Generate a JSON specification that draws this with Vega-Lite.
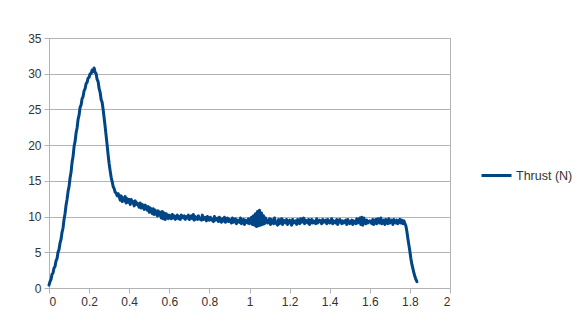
{
  "$schema": "https://vega.github.io/schema/vega-lite/v6.json",
  "width": 401,
  "height": 250,
  "autosize": {"type": "none"},
  "padding": {"left": 49, "top": 38, "right": 126, "bottom": 39},
  "background": "white",
  "config": {
    "font": "Liberation Sans",
    "view": {"stroke": "#b3b3b3", "strokeWidth": 1},
    "axis": {
      "domainColor": "#b3b3b3",
      "tickColor": "#b3b3b3",
      "gridColor": "#b3b3b3",
      "labelColor": "#333333",
      "labelFont": "Liberation Sans",
      "labelFontSize": 12,
      "title": null,
      "tickSize": 5
    }
  },
  "data": {
    "values": [
      {"t":0.00,"F":0.4},{"t":0.005,"F":0.9},{"t":0.01,"F":1.2},{"t":0.015,"F":1.9},{"t":0.02,"F":2.1},{"t":0.025,"F":2.8},{"t":0.03,"F":3.0},{"t":0.035,"F":3.8},{"t":0.04,"F":4.1},
      {"t":0.045,"F":5.0},{"t":0.05,"F":5.4},{"t":0.055,"F":6.3},{"t":0.06,"F":6.8},{"t":0.065,"F":7.8},{"t":0.07,"F":8.4},{"t":0.075,"F":9.6},{"t":0.08,"F":10.4},{"t":0.085,"F":11.6},{"t":0.09,"F":12.4},
      {"t":0.095,"F":13.5},{"t":0.10,"F":14.2},{"t":0.105,"F":15.4},{"t":0.11,"F":16.2},{"t":0.115,"F":17.6},{"t":0.12,"F":18.4},{"t":0.125,"F":19.8},{"t":0.13,"F":20.5},{"t":0.135,"F":21.7},{"t":0.14,"F":22.4},
      {"t":0.145,"F":23.6},{"t":0.15,"F":24.2},{"t":0.155,"F":25.3},{"t":0.16,"F":25.6},{"t":0.165,"F":26.5},{"t":0.17,"F":26.8},{"t":0.175,"F":27.6},{"t":0.18,"F":27.9},{"t":0.185,"F":28.6},{"t":0.19,"F":28.8},
      {"t":0.195,"F":29.4},{"t":0.20,"F":29.5},{"t":0.205,"F":30.0},{"t":0.21,"F":30.0},{"t":0.215,"F":30.5},{"t":0.22,"F":30.3},{"t":0.225,"F":30.8},{"t":0.23,"F":30.2},
      {"t":0.235,"F":30.0},{"t":0.24,"F":29.2},{"t":0.245,"F":28.9},{"t":0.25,"F":27.9},{"t":0.255,"F":27.4},{"t":0.26,"F":26.4},{"t":0.265,"F":26.0},{"t":0.27,"F":25.0},{"t":0.275,"F":23.8},{"t":0.28,"F":22.6},
      {"t":0.285,"F":21.3},{"t":0.29,"F":20.0},{"t":0.295,"F":18.6},{"t":0.30,"F":17.4},{"t":0.305,"F":16.4},{"t":0.31,"F":15.5},{"t":0.315,"F":14.9},{"t":0.32,"F":14.2},{"t":0.325,"F":13.9},{"t":0.33,"F":13.4},
      {"t":0.335,"F":13.3},{"t":0.34,"F":12.9},
      {"t":0.345,"F":13.2},{"t":0.35,"F":12.8},{"t":0.355,"F":12.3},{"t":0.36,"F":12.9},{"t":0.365,"F":12.1},{"t":0.37,"F":12.6},{"t":0.375,"F":12.2},{"t":0.38,"F":12.8},{"t":0.385,"F":11.9},{"t":0.39,"F":12.5},
      {"t":0.395,"F":12.0},{"t":0.40,"F":12.4},{"t":0.405,"F":11.7},{"t":0.41,"F":12.4},{"t":0.415,"F":11.9},{"t":0.42,"F":12.1},{"t":0.425,"F":11.5},{"t":0.43,"F":12.2},{"t":0.435,"F":11.7},{"t":0.44,"F":11.9},
      {"t":0.45,"F":11.3},{"t":0.455,"F":11.9},{"t":0.46,"F":11.2},{"t":0.465,"F":11.7},{"t":0.47,"F":11.4},{"t":0.475,"F":11.0},{"t":0.48,"F":11.6},{"t":0.49,"F":10.9},{"t":0.495,"F":11.4},
      {"t":0.50,"F":10.6},{"t":0.505,"F":11.2},{"t":0.51,"F":10.9},{"t":0.515,"F":10.4},{"t":0.52,"F":11.1},{"t":0.525,"F":10.3},{"t":0.53,"F":10.9},{"t":0.535,"F":10.5},{"t":0.54,"F":10.1},{"t":0.545,"F":10.8},
      {"t":0.55,"F":10.2},{"t":0.555,"F":10.6},{"t":0.56,"F":9.8},{"t":0.565,"F":10.7},{"t":0.57,"F":9.7},{"t":0.575,"F":10.5},{"t":0.58,"F":9.6},{"t":0.585,"F":10.4},{"t":0.59,"F":10.0},{"t":0.595,"F":9.7},
      {"t":0.60,"F":10.2},{"t":0.61,"F":9.7},{"t":0.615,"F":10.3},{"t":0.62,"F":9.8},{"t":0.625,"F":10.1},{"t":0.63,"F":9.6},{"t":0.64,"F":10.2},{"t":0.645,"F":9.7},{"t":0.65,"F":10.0},
      {"t":0.655,"F":9.6},{"t":0.66,"F":10.2},{"t":0.67,"F":9.8},{"t":0.675,"F":10.1},{"t":0.68,"F":9.6},{"t":0.685,"F":10.0},{"t":0.69,"F":9.8},{"t":0.695,"F":10.2},
      {"t":0.70,"F":9.6},{"t":0.71,"F":10.1},{"t":0.715,"F":9.7},{"t":0.72,"F":10.3},{"t":0.725,"F":9.5},{"t":0.73,"F":10.0},{"t":0.74,"F":9.6},{"t":0.745,"F":10.1},
      {"t":0.75,"F":9.7},{"t":0.76,"F":9.5},{"t":0.765,"F":10.2},{"t":0.77,"F":9.6},{"t":0.78,"F":9.9},{"t":0.785,"F":9.4},{"t":0.79,"F":10.0},
      {"t":0.80,"F":9.5},{"t":0.805,"F":9.9},{"t":0.81,"F":9.6},{"t":0.82,"F":9.3},{"t":0.825,"F":10.0},{"t":0.83,"F":9.5},{"t":0.84,"F":9.8},{"t":0.845,"F":9.3},
      {"t":0.85,"F":9.9},{"t":0.86,"F":9.2},{"t":0.865,"F":9.7},{"t":0.87,"F":9.4},{"t":0.875,"F":9.9},{"t":0.88,"F":9.2},{"t":0.89,"F":9.8},{"t":0.895,"F":9.3},
      {"t":0.90,"F":9.6},{"t":0.91,"F":9.1},{"t":0.915,"F":9.8},{"t":0.92,"F":9.2},{"t":0.93,"F":9.7},{"t":0.935,"F":9.0},{"t":0.94,"F":9.5},
      {"t":0.95,"F":9.2},{"t":0.955,"F":9.8},{"t":0.96,"F":9.0},{"t":0.97,"F":9.6},{"t":0.975,"F":8.9},{"t":0.98,"F":9.5},{"t":0.99,"F":9.1},{"t":0.995,"F":9.7},
      {"t":1.00,"F":9.0},{"t":1.005,"F":9.5},{"t":1.01,"F":9.9},{"t":1.015,"F":8.9},{"t":1.02,"F":10.1},{"t":1.025,"F":8.8},{"t":1.03,"F":10.4},{"t":1.035,"F":8.6},{"t":1.04,"F":10.7},
      {"t":1.045,"F":8.7},{"t":1.05,"F":10.9},{"t":1.055,"F":8.8},{"t":1.06,"F":10.5},{"t":1.065,"F":8.9},{"t":1.07,"F":10.1},{"t":1.075,"F":9.0},{"t":1.08,"F":9.8},{"t":1.09,"F":9.1},
      {"t":1.10,"F":9.7},{"t":1.105,"F":8.9},{"t":1.11,"F":9.6},{"t":1.12,"F":9.0},{"t":1.125,"F":9.8},{"t":1.13,"F":9.2},{"t":1.14,"F":8.8},{"t":1.145,"F":9.6},
      {"t":1.15,"F":9.0},{"t":1.16,"F":9.7},{"t":1.165,"F":8.9},{"t":1.17,"F":9.5},{"t":1.18,"F":9.1},{"t":1.185,"F":9.6},{"t":1.19,"F":8.9},
      {"t":1.20,"F":9.5},{"t":1.21,"F":8.8},{"t":1.215,"F":9.6},{"t":1.22,"F":9.1},{"t":1.23,"F":9.4},{"t":1.235,"F":8.9},{"t":1.24,"F":9.6},
      {"t":1.25,"F":9.0},{"t":1.255,"F":9.7},{"t":1.26,"F":9.2},{"t":1.27,"F":9.8},{"t":1.275,"F":9.0},{"t":1.28,"F":9.5},{"t":1.29,"F":9.1},{"t":1.295,"F":9.6},
      {"t":1.30,"F":8.9},{"t":1.31,"F":9.6},{"t":1.315,"F":9.1},{"t":1.32,"F":9.4},{"t":1.33,"F":9.0},{"t":1.335,"F":9.7},{"t":1.34,"F":9.1},
      {"t":1.35,"F":9.5},{"t":1.36,"F":9.0},{"t":1.365,"F":9.6},{"t":1.37,"F":9.2},{"t":1.38,"F":9.5},{"t":1.385,"F":9.0},{"t":1.39,"F":9.6},
      {"t":1.40,"F":9.1},{"t":1.41,"F":9.7},{"t":1.415,"F":9.0},{"t":1.42,"F":9.4},{"t":1.43,"F":9.1},{"t":1.435,"F":9.6},{"t":1.44,"F":8.9},
      {"t":1.45,"F":9.6},{"t":1.46,"F":9.0},{"t":1.465,"F":9.4},{"t":1.47,"F":9.1},{"t":1.48,"F":9.5},{"t":1.485,"F":8.9},{"t":1.49,"F":9.6},
      {"t":1.50,"F":9.0},{"t":1.51,"F":9.5},{"t":1.515,"F":8.9},{"t":1.52,"F":9.4},{"t":1.53,"F":9.0},{"t":1.535,"F":9.7},{"t":1.54,"F":9.1},
      {"t":1.55,"F":9.8},{"t":1.555,"F":8.9},{"t":1.56,"F":9.9},{"t":1.565,"F":8.8},{"t":1.57,"F":9.8},{"t":1.58,"F":9.0},{"t":1.585,"F":9.5},{"t":1.59,"F":9.1},
      {"t":1.60,"F":9.4},{"t":1.61,"F":9.0},{"t":1.615,"F":9.6},{"t":1.62,"F":8.9},{"t":1.63,"F":9.6},{"t":1.635,"F":9.0},{"t":1.64,"F":9.7},
      {"t":1.65,"F":9.1},{"t":1.655,"F":9.8},{"t":1.66,"F":9.0},{"t":1.67,"F":9.5},{"t":1.675,"F":8.9},{"t":1.68,"F":9.6},{"t":1.69,"F":9.0},{"t":1.695,"F":9.7},
      {"t":1.70,"F":9.1},{"t":1.71,"F":9.5},{"t":1.715,"F":8.9},{"t":1.72,"F":9.6},{"t":1.73,"F":9.1},{"t":1.735,"F":9.5},{"t":1.74,"F":9.0},
      {"t":1.75,"F":9.6},{"t":1.755,"F":9.1},{"t":1.76,"F":9.5},{"t":1.765,"F":9.0},{"t":1.77,"F":9.4},{"t":1.775,"F":9.0},{"t":1.78,"F":8.7},{"t":1.785,"F":7.9},{"t":1.79,"F":6.9},
      {"t":1.795,"F":6.0},{"t":1.80,"F":5.1},{"t":1.805,"F":4.1},{"t":1.81,"F":3.3},{"t":1.815,"F":2.7},{"t":1.82,"F":2.1},{"t":1.825,"F":1.6},{"t":1.83,"F":1.2},{"t":1.835,"F":0.9}
    ]
  },
  "transform": [{"calculate": "'Thrust (N)'", "as": "series"}],
  "mark": {"type": "line", "strokeWidth": 3, "strokeJoin": "round", "strokeCap": "round", "interpolate": "linear"},
  "encoding": {
    "x": {
      "field": "t", "type": "quantitative",
      "scale": {"domain": [0, 2], "nice": false},
      "axis": {"values": [0,0.2,0.4,0.6,0.8,1,1.2,1.4,1.6,1.8,2], "format": "~g", "grid": false, "labelPadding": 3}
    },
    "y": {
      "field": "F", "type": "quantitative",
      "scale": {"domain": [0, 35], "nice": false},
      "axis": {"values": [0,5,10,15,20,25,30,35], "grid": true, "labelPadding": 3}
    },
    "color": {
      "field": "series", "type": "nominal",
      "scale": {"range": ["#004586"]},
      "legend": {
        "title": null,
        "orient": "none",
        "legendX": 431,
        "legendY": 121,
        "symbolType": "stroke",
        "symbolSize": 900,
        "symbolStrokeWidth": 3,
        "labelFont": "Liberation Sans",
        "labelFontSize": 12.5,
        "labelColor": "#333333",
        "labelOffset": 3
      }
    }
  }
}
